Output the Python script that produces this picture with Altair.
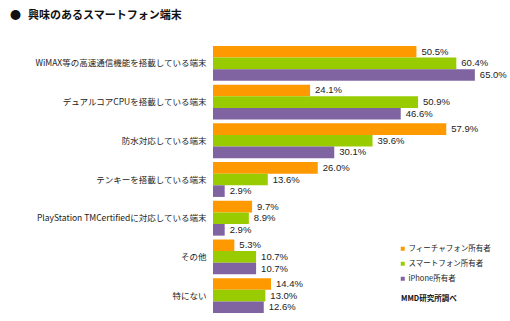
import altair as alt
import pandas as pd

categories = [
    "WiMAX等の高速通信機能を搭載している端末",
    "デュアルコアCPUを搭載している端末",
    "防水対応している端末",
    "テンキーを搭載している端末",
    "PlayStation TMCertifiedに対応している端末",
    "その他",
    "特にない",
]
series = ["フィーチャフォン所有者", "スマートフォン所有者", "iPhone所有者"]
feature_phone = [50.5, 24.1, 57.9, 26.0, 9.7, 5.3, 14.4]
smartphone = [60.4, 50.9, 39.6, 13.6, 8.9, 10.7, 13.0]
iphone = [65.0, 46.6, 30.1, 2.9, 2.9, 10.7, 12.6]
colors = ["#FF9900", "#99CC00", "#8064A2"]

bullet_text = "●"
title_text = "興味のあるスマートフォン端末"
source_text = "MMD研究所調べ"

rows = []
for vals, s in zip([feature_phone, smartphone, iphone], series):
    for c, v in zip(categories, vals):
        rows.append({"category": c, "series": s, "value": v})
df = pd.DataFrame(rows)

FONT = "Noto Sans CJK JP"

y_enc = alt.Y(
    "category:N",
    sort=categories,
    scale=alt.Scale(paddingInner=0.1, paddingOuter=0.05),
    axis=alt.Axis(
        title=None, ticks=False, domain=False, grid=False, labelPadding=7,
        labelFont=FONT, labelFontSize=8.5, labelColor="#222222", labelLimit=220,
    ),
)
yoff = alt.YOffset("series:N", sort=series, scale=alt.Scale(paddingInner=0, paddingOuter=0))
x_enc = alt.X("value:Q", scale=alt.Scale(domain=[0, 70]), axis=None)

bars = alt.Chart(df).mark_bar().encode(
    y=y_enc,
    yOffset=yoff,
    x=x_enc,
    color=alt.Color(
        "series:N",
        sort=series,
        scale=alt.Scale(domain=series, range=colors),
        legend=alt.Legend(
            title=None, orient="none", legendX=186, legendY=201,
            symbolType="square", symbolSize=16, symbolStrokeWidth=0,
            labelFont=FONT, labelFontSize=7.5, labelColor="#222222",
            rowPadding=6, labelOffset=2,
        ),
    ),
)

labels = alt.Chart(df).transform_calculate(
    label="format(datum.value, '.1f') + '%'"
).mark_text(
    align="left", baseline="middle", dx=5, font="Liberation Sans", fontSize=9.5, color="#222222"
).encode(y=y_enc, yOffset=yoff, x=x_enc, text="label:N")

bullet = alt.Chart(pd.DataFrame({"t": [bullet_text]})).mark_text(
    align="left", baseline="middle", font=FONT, fontSize=11, color="#111111"
).encode(x=alt.value(-203), y=alt.value(-28), text="t:N")

title = alt.Chart(pd.DataFrame({"t": [title_text]})).mark_text(
    align="left", baseline="middle", font=FONT, fontSize=11, fontWeight="bold", color="#111111"
).encode(x=alt.value(-185), y=alt.value(-28), text="t:N")

source = alt.Chart(pd.DataFrame({"t": [source_text]})).mark_text(
    align="left", baseline="middle", font=FONT, fontSize=7.5, fontWeight="bold", color="#111111"
).encode(x=alt.value(188), y=alt.value(255), text="t:N")

chart = alt.layer(bars, labels, bullet, title, source).properties(
    width=282, height=271,
    padding={"left": 213, "top": 44, "right": 15, "bottom": 6},
    autosize="none",
).configure(
    background="white",
    view=alt.ViewConfig(strokeWidth=0, stroke="transparent"),
    axis=alt.AxisConfig(domain=False, grid=False, ticks=False),
)

chart.save("out.html", embed_options={"renderer": "svg", "actions": False})
